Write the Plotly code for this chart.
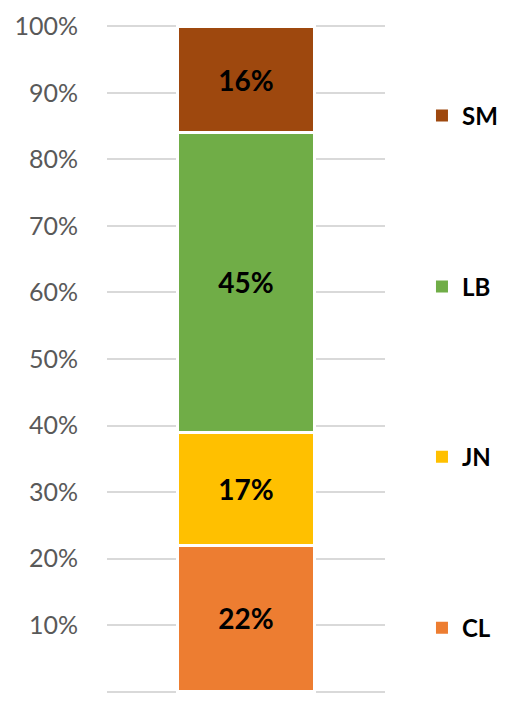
import plotly.graph_objects as go

categories = [""]
series_names = ["CL", "JN", "LB", "SM"]
series_values = [[22], [17], [45], [16]]
series_colors = ["#ED7D31", "#FFC000", "#70AD47", "#9E480E"]
tick_values = [0, 10, 20, 30, 40, 50, 60, 70, 80, 90, 100]
tick_labels = [f"{v}%" for v in tick_values]

FONT = "Lato"
legend_ids = ["legend4", "legend3", "legend2", "legend"]
legend_y = [0.097, 0.353, 0.608, 0.864]

# page body has an 8px default margin; the figure is offset to compensate
fig = go.Figure()
for name, vals, color, lid in zip(series_names, series_values, series_colors, legend_ids):
    fig.add_trace(go.Bar(
        x=categories, y=vals, name=name,
        marker=dict(color=color, line=dict(color="white", width=3)),
        text=[f"{v}%" for v in vals], textposition="inside",
        insidetextanchor="middle", textangle=0,
        textfont=dict(family=FONT, size=28, color="black", weight="bold"),
        constraintext="none",
        width=0.49,
        showlegend=False,
    ))
    # legend entry (square swatch) for the series
    fig.add_trace(go.Scatter(
        x=[None], y=[None], mode="markers", name=name,
        marker=dict(symbol="square", size=12, color=color),
        legend=lid, showlegend=True, hoverinfo="skip",
    ))

layout_legends = {}
for lid, ly in zip(legend_ids, legend_y):
    layout_legends[lid] = dict(
        x=1.133, xanchor="left", y=ly, yanchor="middle",
        font=dict(family=FONT, size=24, color="black", weight="bold"),
        bgcolor="rgba(0,0,0,0)",
    )

fig.update_layout(
    width=497, height=685,
    margin=dict(l=99, r=120, t=17, b=0, autoexpand=False),
    barmode="stack",
    bargap=0.51,
    plot_bgcolor="white", paper_bgcolor="white",
    showlegend=True,
    font=dict(family=FONT),
    **layout_legends,
)
fig.update_yaxes(
    range=[-0.2, 100.2], tickvals=tick_values, ticktext=tick_labels,
    showgrid=True, gridcolor="#D9D9D9", gridwidth=1.5,
    zeroline=False, showline=False, automargin=False,
    tickfont=dict(family=FONT, size=25, color="#595959"),
    ticklabelstandoff=28,
)
fig.update_xaxes(showticklabels=False, showgrid=False, zeroline=False,
                 showline=False, automargin=False)

fig.write_html("out.html")
